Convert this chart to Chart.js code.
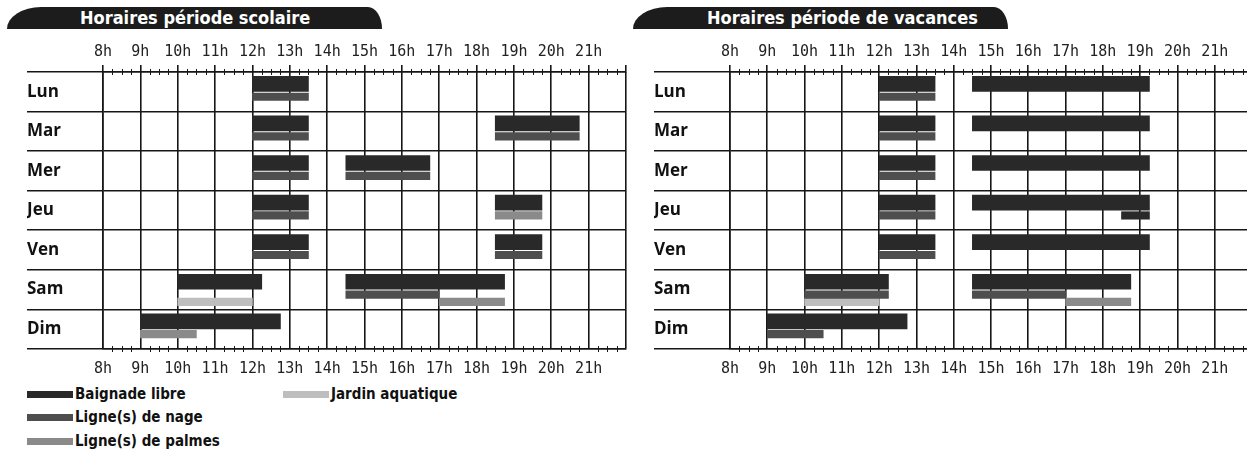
<!DOCTYPE html>
<html lang="fr">
<head>
<meta charset="utf-8">
<title>Horaires</title>
<script src="https://cdn.jsdelivr.net/npm/chart.js@4.4.1/dist/chart.umd.min.js"></script>
<style>
  html, body { margin: 0; padding: 0; background: #fff; overflow: hidden; }
  body { width: 1247px; height: 453px; position: relative; }
  canvas { position: absolute; top: 0; }
  #scol { left: 0; }
  #vac { left: 627px; }
  .banner {
    position: absolute; top: 7px; height: 22px; line-height: 22px; width: 375px;
    box-sizing: border-box; background: #1c1c1c; color: #fff; white-space: nowrap;
    font: bold 18px "DejaVu Sans Condensed", "DejaVu Sans", sans-serif;
    border-top-left-radius: 34px 22px; border-top-right-radius: 14px 22px;
  }
  .legend-item {
    position: absolute; height: 20px; line-height: 20px; white-space: nowrap;
    font: bold 15px "DejaVu Sans Condensed", "DejaVu Sans", sans-serif; color: #111;
  }
  .legend-item i { display: inline-block; width: 46px; height: 7px; margin-right: 2px; vertical-align: 1px; }
</style>
</head>
<body>
<div class="banner" style="left:7px;padding-left:73px">Horaires période scolaire</div>
<div class="banner" style="left:633px;padding-left:74px">Horaires période de vacances</div>
<canvas id="scol" width="637" height="380"></canvas>
<canvas id="vac" width="636" height="380"></canvas>
<div id="legend"></div>
<script>
// --- données ---
const days = ['Lun', 'Mar', 'Mer', 'Jeu', 'Ven', 'Sam', 'Dim'];
const hourLabels = ['8h', '9h', '10h', '11h', '12h', '13h', '14h', '15h', '16h', '17h', '18h', '19h', '20h', '21h'];
const seriesNames = ['Baignade libre', 'Ligne(s) de nage', 'Ligne(s) de palmes', 'Jardin aquatique'];

// [jour, début, fin, (ligne dans la case)]
const scolBaignade = [[0, 12, 13.5], [1, 12, 13.5], [1, 18.5, 20.75], [2, 12, 13.5], [2, 14.5, 16.75],
  [3, 12, 13.5], [3, 18.5, 19.75], [4, 12, 13.5], [4, 18.5, 19.75], [5, 10, 12.25], [5, 14.5, 18.75], [6, 9, 12.75]];
const scolNage = [[0, 12, 13.5], [1, 12, 13.5], [1, 18.5, 20.75], [2, 12, 13.5], [2, 14.5, 16.75],
  [3, 12, 13.5], [4, 12, 13.5], [4, 18.5, 19.75], [5, 14.5, 17]];
const scolPalmes = [[3, 18.5, 19.75, 2], [5, 17, 18.75, 3], [6, 9, 10.5, 2]];
const scolJardin = [[5, 10, 12]];

const vacBaignade = [[0, 12, 13.5], [0, 14.5, 19.25], [1, 12, 13.5], [1, 14.5, 19.25], [2, 12, 13.5], [2, 14.5, 19.25],
  [3, 12, 13.5], [3, 14.5, 19.25], [4, 12, 13.5], [4, 14.5, 19.25], [5, 10, 12.25], [5, 14.5, 18.75], [6, 9, 12.75]];
const vacBaignadeLigne2 = [[3, 18.5, 19.25]];
const vacNage = [[0, 12, 13.5], [1, 12, 13.5], [2, 12, 13.5], [3, 12, 13.5], [4, 12, 13.5],
  [5, 10, 12.25], [5, 14.5, 17], [6, 9, 10.5]];
const vacPalmes = [[5, 17, 18.75, 3]];
const vacJardin = [[5, 10, 12]];

// --- styles ---
const colors = ['#292929', '#4e4e4e', '#8a8a8a', '#bebebe'];
const laneCenter = { 1: 0.30, 2: 0.625, 3: 0.81 };   // position dans la case du jour
const laneThick = { 1: 15, 2: 7.5, 3: 7.5 };
const ink = '#161616';

function bars(list, lane, colorIdx) {
  const byLane = {};
  for (const [d, s, e, l] of list) {
    const k = l || lane;
    (byLane[k] = byLane[k] || []).push({ x: [s, e], y: d + laneCenter[k] });
  }
  return Object.keys(byLane).map(k => ({
    data: byLane[k],
    backgroundColor: colors[colorIdx],
    barThickness: laneThick[k],
    stack: 'all',
    borderWidth: 0
  }));
}

const quarterTicks = {
  id: 'quarterTicks',
  afterDraw(chart) {
    const { ctx, chartArea: a, scales: { x } } = chart;
    ctx.save();
    ctx.strokeStyle = ink;
    ctx.lineWidth = 1;
    ctx.beginPath();
    for (let h = 8; h < 22; h++) {
      for (const q of [0.25, 0.5, 0.75]) {
        const px = Math.round(x.getPixelForValue(h + q)) + 0.5;
        ctx.moveTo(px, a.top - 3); ctx.lineTo(px, a.top + 3);
        ctx.moveTo(px, a.bottom - 3); ctx.lineTo(px, a.bottom + 3);
      }
    }
    ctx.stroke();
    ctx.restore();
  }
};

const tickFont = { family: '"DejaVu Sans Mono", monospace', size: 15 };
const hourTick = (v, i) => hourLabels[i] || '';

function makeChart(id, datasets) {
  return new Chart(document.getElementById(id), {
    type: 'bar',
    data: { datasets },
    options: {
      indexAxis: 'y',
      responsive: false,
      animation: false,
      layout: { padding: { left: 27, right: 4, top: 0, bottom: 0 } },
      plugins: { legend: { display: false }, tooltip: { enabled: false } },
      scales: {
        x: {
          type: 'linear', position: 'bottom', min: 8, max: 22, stacked: false, z: 1,
          afterFit: s => { s.height = 31; },
          grid: { color: ink, lineWidth: 1.6, drawTicks: false },
          border: { color: ink, width: 1.6 },
          ticks: { stepSize: 1, autoSkip: false, maxRotation: 0, padding: 11, color: '#222', font: tickFont, callback: hourTick }
        },
        x2: {
          type: 'linear', axis: 'x', position: 'top', min: 8, max: 22,
          afterFit: s => { s.height = 72; },
          grid: { drawOnChartArea: false, color: ink, lineWidth: 1.6, tickLength: 7 },
          border: { color: ink, width: 1.6 },
          ticks: { stepSize: 1, autoSkip: false, maxRotation: 0, padding: 4, color: '#222', font: tickFont, callback: hourTick }
        },
        y: { type: 'linear', min: 0, max: 7, reverse: true, offset: false, display: false, grid: { offset: false } },
        days: {
          type: 'category', axis: 'y', position: 'left', labels: days, offset: true,
          afterFit: s => { s.width = 76; },
          grid: { offset: true, color: ink, lineWidth: 1.6, tickLength: 76 },
          border: { color: ink, width: 1.6 },
          ticks: { crossAlign: 'far', color: '#111', font: { family: '"Open Sans", sans-serif', size: 17, weight: 'bold' } }
        }
      }
    },
    plugins: [quarterTicks]
  });
}

makeChart('scol', [
  ...bars(scolBaignade, 1, 0), ...bars(scolNage, 2, 1), ...bars(scolPalmes, 2, 2), ...bars(scolJardin, 3, 3)
]);
makeChart('vac', [
  ...bars(vacBaignade, 1, 0), ...bars(vacBaignadeLigne2, 2, 0), ...bars(vacNage, 2, 1),
  ...bars(vacPalmes, 3, 2), ...bars(vacJardin, 3, 3)
]);

// --- légende ---
const legendPos = [[27, 385], [27, 408], [27, 432], [283, 385]];
const legend = document.getElementById('legend');
seriesNames.forEach((name, i) => {
  const el = document.createElement('div');
  el.className = 'legend-item';
  el.style.left = legendPos[i][0] + 'px';
  el.style.top = legendPos[i][1] + 'px';
  el.innerHTML = `<i style="background:${colors[i]}"></i>${name}`;
  legend.appendChild(el);
});
</script>
</body>
</html>
